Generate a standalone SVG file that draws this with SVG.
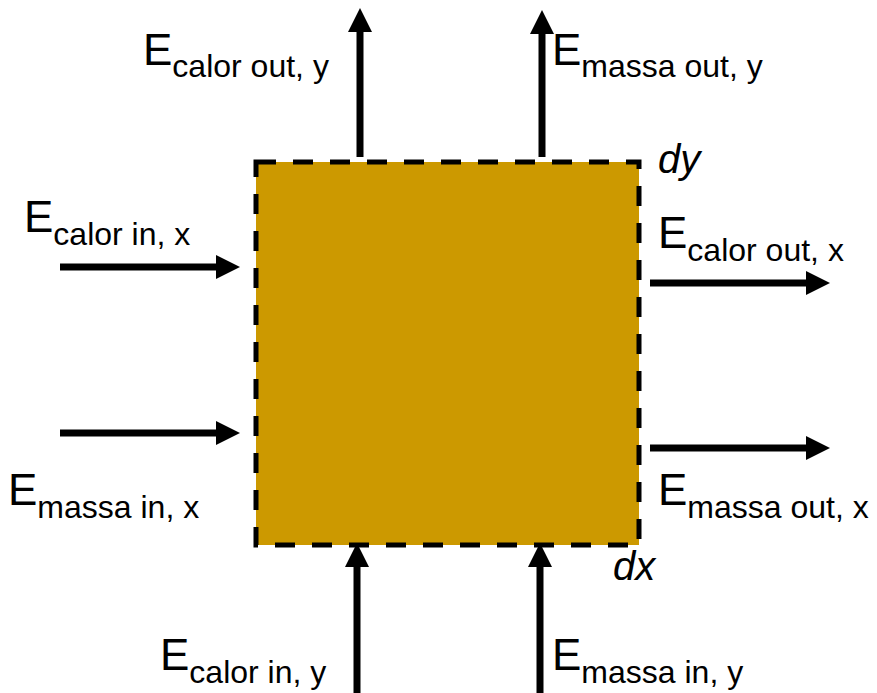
<svg xmlns="http://www.w3.org/2000/svg" width="877" height="693" viewBox="0 0 877 693">
<style>
.big{font-family:"Liberation Sans",Arial,sans-serif;font-size:44px;fill:#000}
.sub{font-size:32px}
.it{font-family:"Liberation Sans",Arial,sans-serif;font-size:40px;font-style:italic;fill:#000}
.arr{stroke:#000;stroke-width:7;fill:none;marker-end:url(#ah)}
</style>
<defs>
<marker id="ah" markerUnits="userSpaceOnUse" markerWidth="24" markerHeight="24" refX="2" refY="12" orient="auto">
<path d="M0,0 L24,12 L0,24 z" fill="#000"/>
</marker>
</defs>
<rect width="877" height="693" fill="#fff"/>
<g id="volume">
<rect x="256" y="162" width="383" height="383" fill="#CC9900" stroke="#000" stroke-width="5" stroke-dasharray="20 17"/>
</g>
<g id="connectors">
<line class="arr" x1="360" y1="157" x2="360" y2="30"/>
<line class="arr" x1="542" y1="157" x2="542" y2="32"/>
<line class="arr" x1="60" y1="267" x2="218" y2="267"/>
<line class="arr" x1="60" y1="433" x2="218" y2="433"/>
<line class="arr" x1="650" y1="283" x2="808" y2="283"/>
<line class="arr" x1="650" y1="448" x2="808" y2="448"/>
<line class="arr" x1="357" y1="693" x2="357" y2="565"/>
<line class="arr" x1="540" y1="693" x2="540" y2="565"/>
</g>
<g id="label-calor-out-y"><text class="big" x="143" y="65">E<tspan class="sub" dy="12">calor out, y</tspan></text></g>
<g id="label-massa-out-y"><text class="big" x="552" y="65">E<tspan class="sub" dy="12">massa out, y</tspan></text></g>
<g id="label-calor-in-x"><text class="big" x="24" y="232">E<tspan class="sub" dy="13">calor in, x</tspan></text></g>
<g id="label-calor-out-x"><text class="big" x="658" y="248">E<tspan class="sub" dy="13">calor out, x</tspan></text></g>
<g id="label-massa-in-x"><text class="big" x="8" y="505">E<tspan class="sub" dy="13">massa in, x</tspan></text></g>
<g id="label-massa-out-x"><text class="big" x="658" y="505">E<tspan class="sub" dy="13">massa out, x</tspan></text></g>
<g id="label-calor-in-y"><text class="big" x="160" y="670">E<tspan class="sub" dy="13">calor in, y</tspan></text></g>
<g id="label-massa-in-y"><text class="big" x="552" y="670">E<tspan class="sub" dy="13">massa in, y</tspan></text></g>
<g id="label-dy"><text class="it" x="658" y="173">dy</text></g>
<g id="label-dx"><text class="it" x="613" y="580">dx</text></g>
</svg>
